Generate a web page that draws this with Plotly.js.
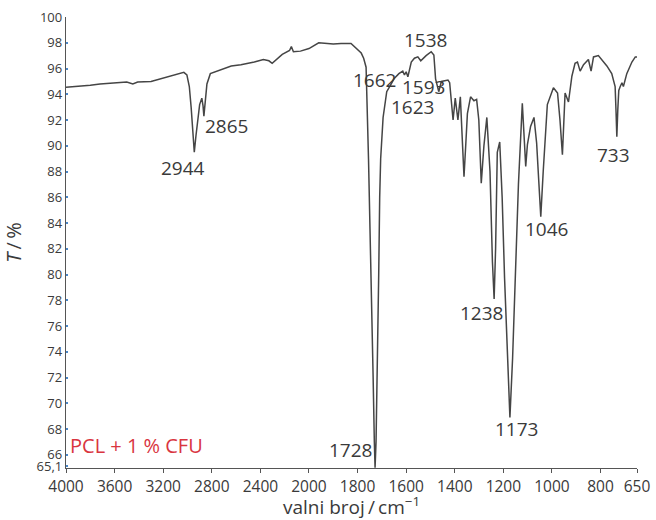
<!DOCTYPE html>
<html>
<head>
<meta charset="utf-8">
<script src="https://cdn.plot.ly/plotly-3.0.1.min.js"></script>
<style>html,body{margin:0;padding:0;background:#fff;}#chart{width:656px;height:520px;}</style>
</head>
<body>
<div id="chart"></div>
<script>
// wavenumber (cm^-1) and transmittance (%)
const wavenumber = [4000,3900,3800,3720,3600,3500,3450,3410,3300,3260,3180,3100,3030,3005,2985,2970,2958,2944,2930,2915,2900,2882,2872,2865,2855,2840,2812,2730,2640,2560,2450,2375,2330,2303,2270,2220,2160,2145,2128,2070,2000,1960,1900,1868,1827,1800,1785,1775,1765,1755,1745,1736,1731,1728,1724,1718,1713,1709,1705,1695,1680,1665,1650,1630,1614,1607,1600,1593,1585,1579,1566,1552,1540,1530,1518,1497,1486,1479,1466,1455,1428,1421,1407,1398,1387,1377,1370,1362,1355,1348,1335,1321,1310,1301,1291,1280,1268,1255,1245,1238,1232,1225,1215,1205,1195,1185,1173,1162,1150,1138,1122,1108,1101,1088,1074,1063,1055,1046,1036,1019,994,977,967,957,946,932,918,905,895,884,870,850,839,829,809,795,774,754,740,736,733,729,725,719,712,706,692,671,657,650];
const transmittance = [94.55,94.6,94.7,94.8,94.85,94.95,94.8,94.95,95.0,95.1,95.3,95.5,95.7,95.5,94.6,93.0,91.2,89.5,90.8,92.3,93.2,93.7,93.1,92.3,93.5,94.8,95.6,95.9,96.2,96.3,96.5,96.7,96.6,96.4,96.7,97.1,97.4,97.7,97.3,97.35,97.55,98.0,97.9,97.95,97.95,97.5,97.2,96.8,96.1,89,81,72,67,65.0,67,73,80,86,89,92.2,94.2,94.7,95.2,95.6,95.8,95.5,95.75,95.35,95.9,96.5,96.8,96.9,96.6,96.8,97.0,97.3,97.05,95.2,94.2,95.0,95.1,94.9,92.0,93.7,92.0,93.8,91,87.6,90,92.5,93.8,93.5,93.6,92,87.1,90,92.2,88,81,78.1,82,89.5,90.3,86,79.7,74,68.9,73.5,79.7,87,93.3,88.4,90.1,91.5,92.2,90.2,87.5,84.5,88,93.2,94.5,94.1,92,89.3,94.1,93.4,95.4,96.4,96.5,95.8,96.3,96.7,95.8,96.9,97.0,96.7,96.2,95.6,94.6,92.5,90.7,92.8,94.3,94.6,94.9,94.6,95.6,96.5,96.9,96.9];

const xTickValues = [4000,3600,3200,2800,2400,2000,1800,1600,1400,1200,1000,800,650];
const yTickValues = [65.1,66,68,70,72,74,76,78,80,82,84,86,88,90,92,94,96,98,100];
const yTickLabels = ["65,1","66","68","70","72","74","76","78","80","82","84","86","88","90","92","94","96","98","100"];

const peakLabels = ["2944","2865","1662","1538","1593","1623","1728","1238","1173","1046","733"];
const peakLabelX = [3035,2680,1732,1522,1530,1575,1830,1291,1146,1023,746];
const peakLabelY = [88.3,91.5,95.1,98.2,94.6,93.0,66.4,77.0,68.0,83.5,89.3];

const sampleName = "PCL + 1 % CFU";

// split-scale wavenumber axis: above 2000 cm-1 compressed 2x
function u(wn){ return wn >= 2000 ? (4000 - wn) / 2 : 1000 + (2000 - wn); }

const font = "'Open Sans', 'DejaVu Sans', sans-serif";
const txt = "#3a3a3a";

const trace = {
  x: wavenumber.map(u), y: transmittance, type: 'scatter', mode: 'lines',
  line: {color: '#454545', width: 1.5}, hoverinfo: 'skip'
};

const annotations = peakLabels.map((t, i) => ({
  x: u(peakLabelX[i]), y: peakLabelY[i], xref: 'x', yref: 'y', text: t,
  showarrow: false, font: {family: font, size: 19, color: txt}
}));
annotations.push({
  x: u(3985), y: 66.7, xref: 'x', yref: 'y', text: sampleName, xanchor: 'left',
  showarrow: false, font: {family: font, size: 20, color: '#d9353f'}
});

const layout = {
  width: 656, height: 520,
  margin: {l: 66, r: 19, t: 17, b: 52},
  paper_bgcolor: '#fff', plot_bgcolor: '#fff',
  showlegend: false,
  xaxis: {
    range: [0, u(650)], tickvals: xTickValues.map(u), ticktext: xTickValues.map(String),
    showgrid: false, zeroline: false, showline: true, linecolor: '#555', linewidth: 1.2,
    ticks: 'outside', ticklen: 4, tickcolor: '#555',
    tickfont: {family: font, size: 15.5, color: txt},
    title: {text: 'valni broj\u2009/\u2009cm<sup>−1</sup>', font: {family: font, size: 19, color: txt}, standoff: 9}
  },
  yaxis: {
    range: [64.98, 100], tickvals: yTickValues, ticktext: yTickLabels,
    showgrid: false, zeroline: false, showline: true, linecolor: '#555', linewidth: 1.2,
    ticks: 'inside', ticklen: 2, tickcolor: '#4a86c8', tickwidth: 2,
    tickfont: {family: font, size: 13, color: txt},
    title: {text: '<i>T</i>\u2009/\u2009%', font: {family: font, size: 20, color: txt}, standoff: 10}
  },
  annotations: annotations
};

Plotly.newPlot('chart', [trace], layout, {displayModeBar: false, staticPlot: true});
</script>
</body>
</html>
